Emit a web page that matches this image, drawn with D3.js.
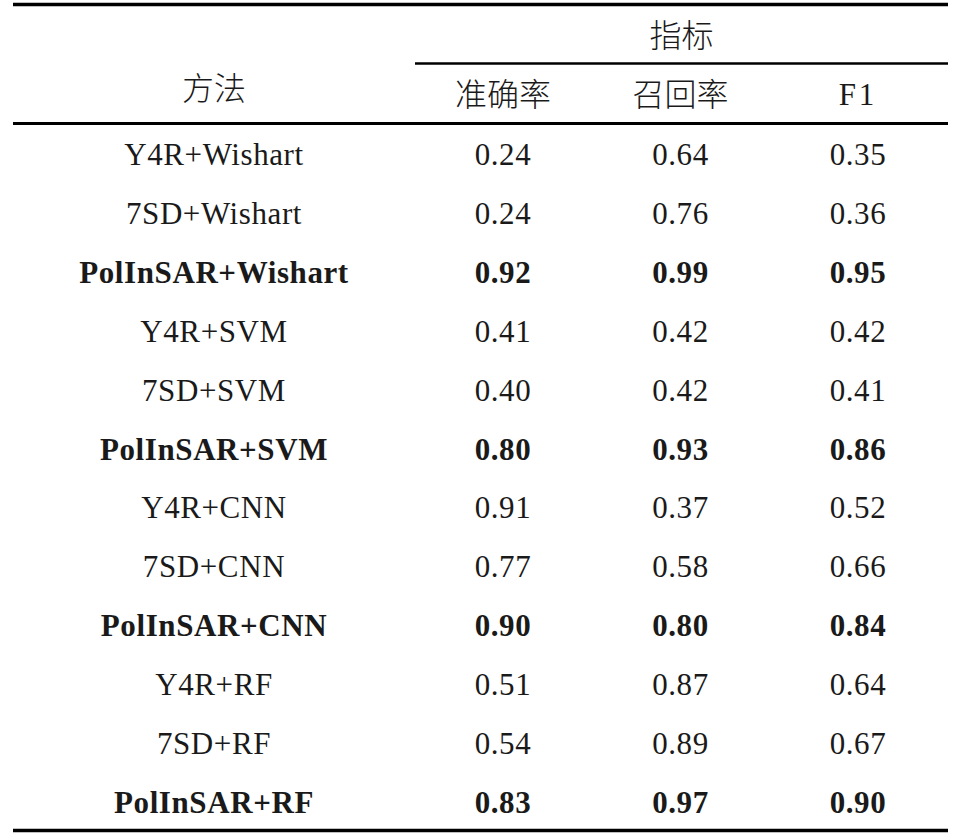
<!DOCTYPE html>
<html>
<head>
<meta charset="utf-8">
<script src="https://cdn.jsdelivr.net/npm/d3@7"></script>
<style>
    html, body { margin: 0; padding: 0; background: #fff; }
    .latin { font-family: "Liberation Serif", "DejaVu Serif", serif; font-size: 31px; fill: #1a1a1a; letter-spacing: 0.6px; }
    .cjk { font-family: "Noto Sans CJK SC", sans-serif; font-size: 32px; font-weight: 300; fill: #1a1a1a; }
    .rule { stroke: #000; }
</style>
</head>
<body>
<div id="chart"></div>
<script>
// Table data
const methods = ['Y4R+Wishart', '7SD+Wishart', 'PolInSAR+Wishart', 'Y4R+SVM', '7SD+SVM', 'PolInSAR+SVM',
                 'Y4R+CNN', '7SD+CNN', 'PolInSAR+CNN', 'Y4R+RF', '7SD+RF', 'PolInSAR+RF'];
const metrics = ['准确率', '召回率', 'F1'];
const precision = ['0.24', '0.24', '0.92', '0.41', '0.40', '0.80', '0.91', '0.77', '0.90', '0.51', '0.54', '0.83'];
const recall    = ['0.64', '0.76', '0.99', '0.42', '0.42', '0.93', '0.37', '0.58', '0.80', '0.87', '0.89', '0.97'];
const f1        = ['0.35', '0.36', '0.95', '0.42', '0.41', '0.86', '0.52', '0.66', '0.84', '0.64', '0.67', '0.90'];
const boldRows  = ['PolInSAR+Wishart', 'PolInSAR+SVM', 'PolInSAR+CNN', 'PolInSAR+RF'];

const W = 953, H = 837;
const cfg = {
    left: 13, right: 948,
    groupTop: 4.5, groupLine: 63.5, headLine: 123.5, bottomLine: 830.5,
    methodX: 214,
    metricStart: 415
};

const svg = d3.select('#chart').append('svg')
    .attr('width', W).attr('height', H)
    .attr('viewBox', '0 0 ' + W + ' ' + H);

// scales: rows down, metric columns across
const yScale = d3.scaleBand().domain(methods).range([125, 832]);
const xScale = d3.scalePoint().domain(metrics).range([503, 858]);

const columns = metrics.map(function(m, i) {
    return {key: m, values: [precision, recall, f1][i]};
});

// RULES
svg.append('line').attr('class', 'rule')
    .attr('x1', cfg.left).attr('x2', cfg.right)
    .attr('y1', cfg.groupTop).attr('y2', cfg.groupTop)
    .attr('stroke-width', 3.5);
svg.append('line').attr('class', 'rule')
    .attr('x1', cfg.metricStart).attr('x2', cfg.right)
    .attr('y1', cfg.groupLine).attr('y2', cfg.groupLine)
    .attr('stroke-width', 2.5);
svg.append('line').attr('class', 'rule')
    .attr('x1', cfg.left).attr('x2', cfg.right)
    .attr('y1', cfg.headLine).attr('y2', cfg.headLine)
    .attr('stroke-width', 3);
svg.append('line').attr('class', 'rule')
    .attr('x1', cfg.left).attr('x2', cfg.right)
    .attr('y1', cfg.bottomLine).attr('y2', cfg.bottomLine)
    .attr('stroke-width', 3.5);

// HEADER
svg.append('text').attr('class', 'cjk')
    .attr('x', cfg.methodX).attr('y', 100)
    .attr('text-anchor', 'middle')
    .text('方法');
svg.append('text').attr('class', 'cjk')
    .attr('x', (cfg.metricStart + cfg.right) / 2).attr('y', 47)
    .attr('text-anchor', 'middle')
    .text('指标');
svg.selectAll('.metric-head')
    .data(metrics).enter()
    .append('text')
    .attr('class', function(d) { return d === 'F1' ? 'metric-head latin' : 'metric-head cjk'; })
    .attr('x', function(d) { return xScale(d); })
    .attr('y', function(d) { return d === 'F1' ? 105 : 106; })
    .attr('text-anchor', 'middle')
    .style('letter-spacing', function(d) { return d === 'F1' ? '3px' : null; })
    .text(function(d) { return d; });

// BODY
const rowY = function(m) { return yScale(m) + yScale.bandwidth() / 2 + 10.5; };
const weight = function(m) { return boldRows.indexOf(m) >= 0 ? 'bold' : 'normal'; };

svg.selectAll('.method')
    .data(methods).enter()
    .append('text')
    .attr('class', 'method latin')
    .attr('x', cfg.methodX)
    .attr('y', rowY)
    .attr('text-anchor', 'middle')
    .style('font-weight', weight)
    .text(function(d) { return d; });

columns.forEach(function(col) {
    svg.selectAll('.cell--' + metrics.indexOf(col.key))
        .data(col.values).enter()
        .append('text')
        .attr('class', 'cell latin')
        .attr('x', xScale(col.key))
        .attr('y', function(d, i) { return rowY(methods[i]); })
        .attr('text-anchor', 'middle')
        .style('font-weight', function(d, i) { return weight(methods[i]); })
        .text(function(d) { return d; });
});
</script>
</body>
</html>
